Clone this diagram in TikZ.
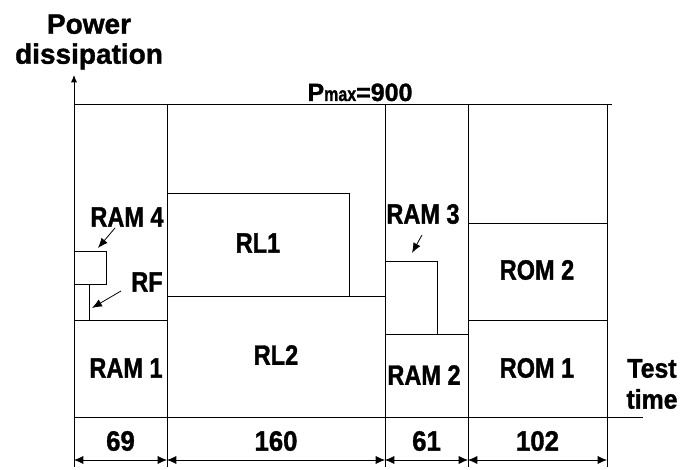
\documentclass[tikz,border=0pt]{standalone}
\usepackage{fontspec}
\usepackage{graphicx}
\setmainfont[BoldFeatures={FakeBold=1.3}]{Liberation Sans}
\usetikzlibrary{arrows.meta,positioning}
\newcommand{\nar}[1]{\scalebox{0.84}[1]{#1}}

\begin{document}
\begin{tikzpicture}[x=1pt,y=-1pt,
  line/.style={line width=0.9pt},
  blk/.style={draw,line width=0.9pt,inner sep=0pt},
  lbl/.style={font=\fontsize{28}{28}\selectfont\bfseries},
  num/.style={font=\fontsize{28}{28}\selectfont\bfseries},
  ttl/.style={font=\fontsize{28}{30}\selectfont\bfseries,align=center},
  ptr/.style={-{Latex[length=3.5mm,width=2.8mm]},line width=0.8pt},
  dim/.style={{Latex[length=3.3mm,width=2.9mm]}-{Latex[length=3.3mm,width=2.9mm]},line width=0.8pt}
]
\useasboundingbox (0,0) rectangle (681,470);

% axes
\coordinate (ybot) at (74,467);
\coordinate (ytop) at (74,75);
\coordinate (t0) at (74,417);
\coordinate (t1) at (643,417);
\draw[line,-{Latex[length=2.6mm,width=2.2mm]}] (ybot) -- (ytop);
\draw[line] (t0) -- (t1);
\node[ttl] (pd) at (89,42) {Power\\dissipation};
\node[ttl,font=\fontsize{27}{31}\selectfont\bfseries] (tt) at (652,384) {\scalebox{0.92}[1]{Test}\\\scalebox{0.92}[1]{time}};

% power limit
\coordinate (p0) at (74,104);
\coordinate (p1) at (612,104);
\draw[line] (p0) -- (p1);
\node[font=\fontsize{25}{25}\selectfont\bfseries,inner sep=0pt,anchor=base] (pmax) at (360,101)
  {P\scalebox{0.8}[1]{\fontsize{20}{20}\selectfont max}=900};

% column borders
\foreach \x/\n in {167/c1,385/c2,468/c3,607/c4}{
  \coordinate (\n top) at (\x,104);
  \coordinate (\n bot) at (\x,467);
  \draw[line] (\n top) -- (\n bot);
}

% column 1
\node[blk,minimum width=32,minimum height=33] (ram4) at (90,267.5) {};
\node[blk,minimum width=15,minimum height=36] (rf) at (81.5,302) {};
\coordinate (s1a) at (74,320);
\coordinate (s1b) at (167,320);
\draw[line] (s1a) -- (s1b);
\node[lbl] (ram4l) at (127,217) {\nar{RAM 4}};
\node[lbl] (rfl) at (147,282) {\nar{RF}};
\node[lbl] (ram1) at (126,368) {\nar{RAM 1}};
\coordinate (a4s) at (115,228);
\coordinate (a4e) at (98,248);
\coordinate (afs) at (121,291);
\coordinate (afe) at (92,308);
\draw[ptr] (a4s) -- (a4e);
\draw[ptr] (afs) -- (afe);

% column 2
\node[blk,minimum width=182,minimum height=103] (rl1) at (258,244.5) {};
\node[lbl] (rl1l) at (258,243) {\nar{RL1}};
\coordinate (s2a) at (349,296);
\coordinate (s2b) at (385,296);
\draw[line] (s2a) -- (s2b);
\node[lbl] (rl2) at (276,355) {\nar{RL2}};

% column 3
\node[blk,minimum width=52,minimum height=73] (ram3) at (411,297.5) {};
\coordinate (s3a) at (437,334);
\coordinate (s3b) at (468,334);
\draw[line] (s3a) -- (s3b);
\node[lbl] (ram3l) at (423,214) {\nar{RAM 3}};
\node[lbl] (ram2) at (424,375) {\nar{RAM 2}};
\coordinate (a3s) at (422,235);
\coordinate (a3e) at (412,253);
\draw[ptr] (a3s) -- (a3e);

% column 4
\coordinate (s4a) at (468,223);
\coordinate (s4b) at (607,223);
\coordinate (s4c) at (468,320);
\coordinate (s4d) at (607,320);
\draw[line] (s4a) -- (s4b);
\draw[line] (s4c) -- (s4d);
\node[lbl] (rom2) at (537,270) {\nar{ROM 2}};
\node[lbl] (rom1) at (537,368) {\nar{ROM 1}};

% test times
\foreach \x/\n in {74/d0,167/d1,385/d2,468/d3,607/d4}
  \coordinate (\n) at (\x,460);
\draw[dim] (d0) -- (d1);
\draw[dim] (d1) -- (d2);
\draw[dim] (d2) -- (d3);
\draw[dim] (d3) -- (d4);
\node[num] (w1) at (120.5,441) {\scalebox{0.92}[1]{69}};
\node[num] (w2) at (276,441) {\scalebox{0.92}[1]{160}};
\node[num] (w3) at (426.5,441) {\scalebox{0.92}[1]{61}};
\node[num] (w4) at (537.5,441) {\scalebox{0.92}[1]{102}};
\end{tikzpicture}
\end{document}
